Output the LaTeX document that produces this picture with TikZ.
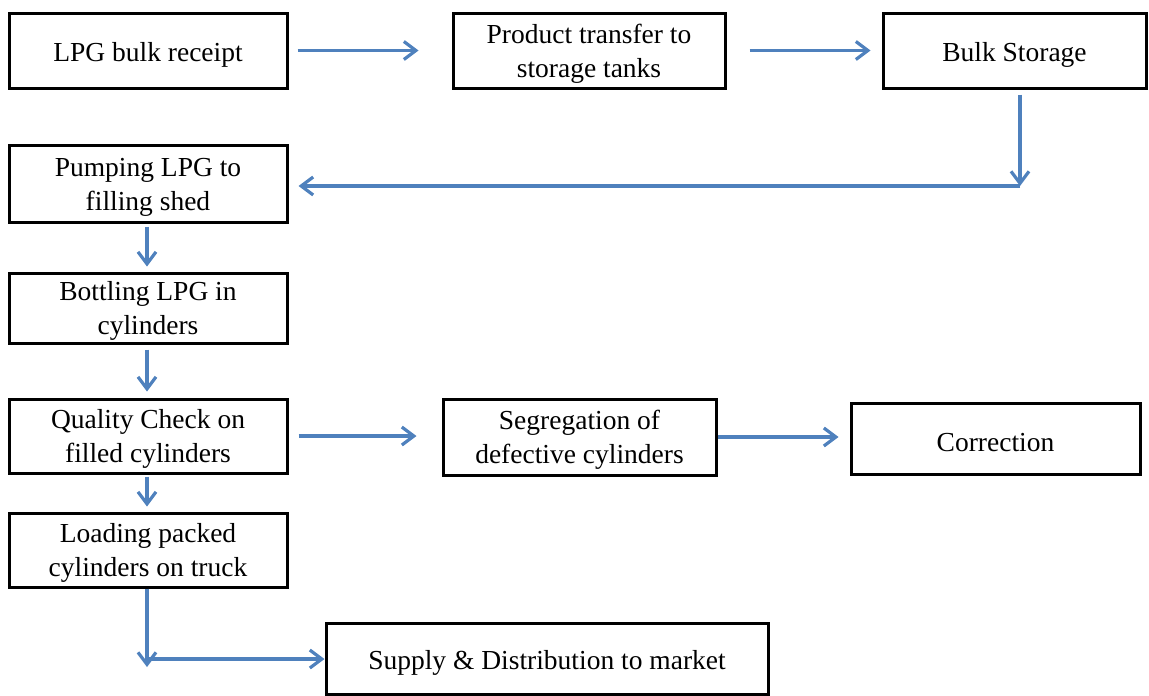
\documentclass[tikz,border=0pt]{standalone}
\usepackage{fontspec}
\setmainfont{Liberation Serif}
\usetikzlibrary{arrows.meta,calc}
\definecolor{arrblue}{RGB}{79,129,189}
\newcommand\tsone{\rule{0pt}{27pt}}
\newcommand\tstwo{\rule{0pt}{25pt}}
\begin{document}
\begin{tikzpicture}[x=1pt,y=-1pt,
  box/.style={draw=black,line width=3pt,fill=white,align=center,inner sep=0pt,
    font=\fontsize{27.5}{34}\selectfont,text=black},
  arr/.style={draw=arrblue,line width=3.2pt,-{Straight Barb[length=12pt,width=18pt]}}]
\useasboundingbox (0,0) rectangle (1149,696);
\node[box,minimum width=278,minimum height=75] (rec) at (148,50.5) {\tsone LPG bulk receipt};
\node[box,minimum width=272,minimum height=75] (trans) at (589,50.5) {\tstwo Product transfer to\\storage tanks};
\node[box,minimum width=263,minimum height=75] (bs) at (1014.5,50.5) {\tsone Bulk Storage};
\node[box,minimum width=278,minimum height=77] (pump) at (148,183.5) {\tstwo Pumping LPG to\\filling shed};
\node[box,minimum width=278,minimum height=70] (bott) at (148,308) {\tstwo Bottling LPG in\\cylinders};
\node[box,minimum width=278,minimum height=74] (qc) at (148,436) {\tstwo Quality Check on\\filled cylinders};
\node[box,minimum width=273,minimum height=76] (seg) at (579.5,437) {\tstwo Segregation of\\defective cylinders};
\node[box,minimum width=289,minimum height=71] (corr) at (995.5,438.5) {\tsone Correction};
\node[box,minimum width=278,minimum height=74] (load) at (148,550) {\tstwo Loading packed\\cylinders on truck};
\node[box,minimum width=442,minimum height=71] (sup) at (547,658.5) {\tsone Supply \& Distribution to market};
\coordinate (c1) at (1020,186);
\coordinate (c2) at (147,667);
\coordinate (c3) at (147,659);
% arrows
\draw[arr,shorten <=9pt,shorten >=33pt] (rec.east) -- (trans.west);
\draw[arr,shorten <=23pt,shorten >=11pt] (trans.east) -- (bs.west);
\draw[arr,shorten <=5pt] (bs.south -| c1) -- (c1);
\draw[arr,shorten >=10pt] (c1) -- (c1 -| pump.east);
\draw[arr,shorten <=3pt,shorten >=5pt] ([xshift=-1pt]pump.south) -- ([xshift=-1pt]bott.north);
\draw[arr,shorten <=5pt,shorten >=6pt] ([xshift=-1pt]bott.south) -- ([xshift=-1pt]qc.north);
\draw[arr,shorten <=10pt,shorten >=25pt] (qc.east) -- (qc.east -| seg.west);
\draw[arr,shorten >=11pt] (seg.east) -- (seg.east -| corr.west);
\draw[arr,shorten <=2pt,shorten >=5pt] ([xshift=-1pt]qc.south) -- ([xshift=-1pt]load.north);
\draw[arr] ([xshift=-1pt]load.south) -- (c2);
\draw[arr] (c3) -- (c3 -| sup.west);
\end{tikzpicture}
\end{document}
